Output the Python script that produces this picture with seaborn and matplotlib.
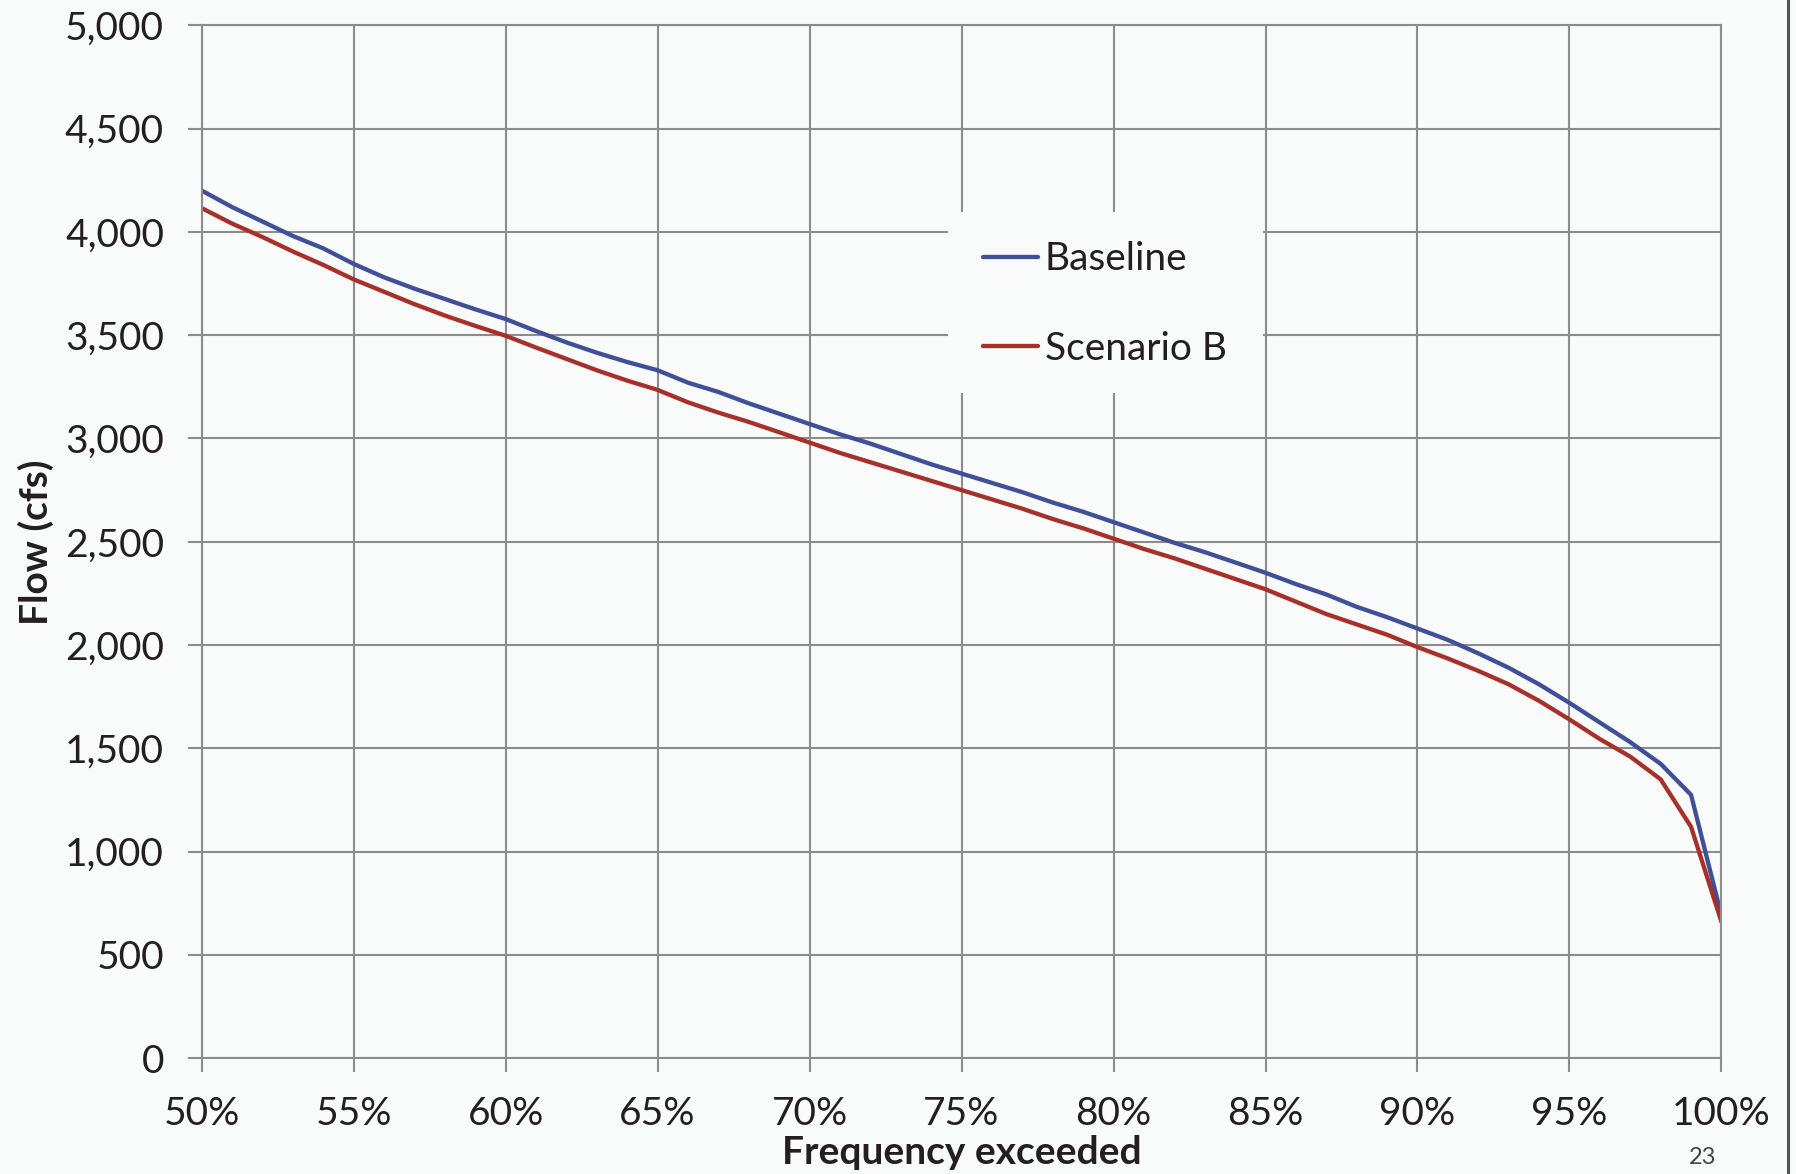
import matplotlib
matplotlib.use("Agg")
import matplotlib.pyplot as plt
import matplotlib.ticker as mticker
from matplotlib.patches import Rectangle
import pandas as pd
import seaborn as sns

# Flow-duration curves: percent of time a flow is exceeded vs flow (cfs)
exceedance = list(range(50, 101))
baseline = [4200, 4120, 4050, 3980, 3920, 3845, 3780, 3725, 3675, 3625,
            3578, 3520, 3465, 3415, 3370, 3330, 3270, 3225, 3170, 3120,
            3070, 3020, 2975, 2925, 2875, 2830, 2785, 2740, 2690, 2645,
            2595, 2545, 2495, 2450, 2400, 2350, 2295, 2245, 2185, 2135,
            2080, 2025, 1960, 1890, 1810, 1720, 1625, 1530, 1425, 1275,
            690]
scenario_b = [4115, 4040, 3975, 3905, 3840, 3770, 3710, 3650, 3595, 3545,
              3497, 3440, 3385, 3330, 3280, 3235, 3175, 3125, 3080, 3030,
              2980, 2930, 2885, 2840, 2795, 2750, 2705, 2660, 2610, 2565,
              2515, 2465, 2420, 2370, 2320, 2270, 2210, 2150, 2100, 2050,
              1990, 1935, 1875, 1810, 1730, 1640, 1545, 1460, 1350, 1120,
              660]
series_names = ["Baseline", "Scenario B"]
series_colors = ["#3f4f98", "#a8302a"]
x_ticks = list(range(50, 101, 5))
y_ticks = list(range(0, 5001, 500))

df = pd.concat([
    pd.DataFrame({"Exceedance": exceedance, "Flow": baseline, "Series": series_names[0]}),
    pd.DataFrame({"Exceedance": exceedance, "Flow": scenario_b, "Series": series_names[1]}),
])

sns.set_theme(style="whitegrid")
plt.rcParams["font.family"] = ["Lato", "DejaVu Sans"]

W, H = 1796, 1174
bg = "#f9fafa"
grid_c = "#8c8c8c"
text_c = "#231f20"

fig = plt.figure(figsize=(W / 100, H / 100), dpi=100, facecolor=bg)
ax = fig.add_axes([0.11225, 0.09855, 0.84625, 0.87998])
ax.set_facecolor(bg)

sns.lineplot(data=df, x="Exceedance", y="Flow", hue="Series",
             palette=dict(zip(series_names, series_colors)),
             linewidth=3.1, ax=ax, legend=True)

ax.set_xlim(50, 100)
ax.set_ylim(0, 5000)
ax.set_xticks(x_ticks)
ax.set_yticks(y_ticks)
ax.xaxis.set_major_formatter(mticker.FuncFormatter(lambda v, p: f"{int(v)}%"))
ax.yaxis.set_major_formatter(mticker.FuncFormatter(lambda v, p: f"{int(v):,}"))

ax.grid(True, color=grid_c, linewidth=1.5)
for s in ax.spines.values():
    s.set_color(grid_c)
    s.set_linewidth(1.5)

ax.tick_params(axis="both", which="major", length=10, width=1.5, color=grid_c,
               labelsize=28, labelcolor=text_c)
ax.tick_params(axis="x", pad=17, bottom=True)
ax.tick_params(axis="y", pad=17, left=True)

ax.set_xlabel("Frequency exceeded", fontsize=28, fontweight="bold", color=text_c, labelpad=2)
ax.set_ylabel("Flow (cfs)", fontsize=28, fontweight="bold", color=text_c, labelpad=8)

# blank panel behind the legend, hiding the grid there
ax.add_patch(Rectangle((948 / W, 1 - 393 / H), (1263 - 948) / W, (393 - 212) / H,
                       transform=fig.transFigure, facecolor=bg, edgecolor="none",
                       zorder=1))

leg = ax.legend(loc="center left", bbox_to_anchor=(983 / W, 1 - 304 / H),
                bbox_transform=fig.transFigure, fontsize=28, frameon=False,
                handlelength=1.41, handletextpad=0.18, labelspacing=1.38,
                borderpad=0, borderaxespad=0)
for t in leg.get_texts():
    t.set_color(text_c)

# page frame line and page number
fig.add_artist(plt.Line2D([1788 / W, 1788 / W], [0, 1], transform=fig.transFigure,
                          color="#555555", linewidth=2.2))
fig.text(1703 / W, 1 - 1147 / H, "23", fontsize=17, color="#444444",
         ha="center", va="top")

fig.savefig("out.png", dpi=100, facecolor=bg)
